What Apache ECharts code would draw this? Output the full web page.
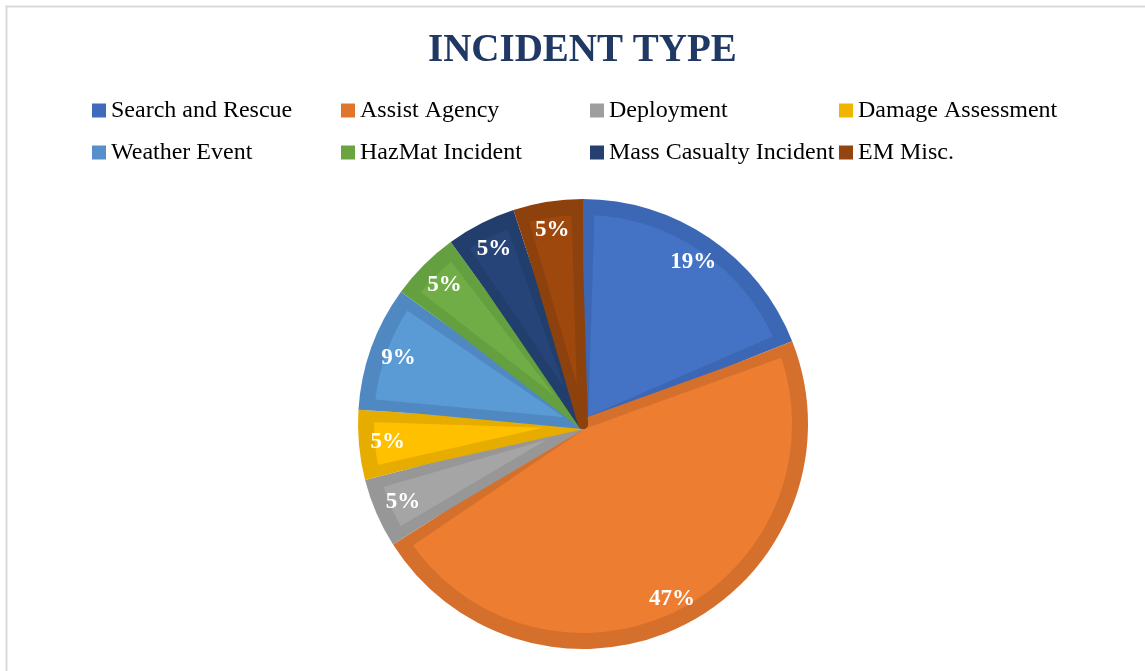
<!DOCTYPE html>
<html>
<head>
<meta charset="utf-8">
<script src="https://cdn.jsdelivr.net/npm/echarts@6/dist/echarts.min.js"></script>
<style>
  html, body { margin: 0; padding: 0; background: #fff; }
  #chart { width: 1145px; height: 671px; }
</style>
</head>
<body>
<div id="chart"></div>
<script>
const titleText = 'INCIDENT TYPE';
const categories = ['Search and Rescue', 'Assist Agency', 'Deployment', 'Damage Assessment',
                    'Weather Event', 'HazMat Incident', 'Mass Casualty Incident', 'EM Misc.'];
const percentValues = [19, 47, 5, 5, 9, 5, 5, 5];
const fillColors  = ['#4472C4', '#ED7D31', '#A5A5A5', '#FFC000', '#5B9BD5', '#70AD47', '#264478', '#9E480E'];
const frameColors = ['#3C67B4', '#D5702C', '#979797', '#E6AC00', '#5089C1', '#65A040', '#223E6D', '#8D410D'];
const legendColors = ['#3F6BBB', '#E0762E', '#9E9E9E', '#F0B500', '#568FC9', '#69A43F', '#243F70', '#944410'];

const serif = '"Liberation Serif", "Times New Roman", serif';
const center = [583, 424];

const darkData = categories.map((n, i) => ({ name: n, value: percentValues[i], itemStyle: { color: frameColors[i] } }));
const lightData = categories.map((n, i) => ({ name: n, value: percentValues[i],
  itemStyle: { color: fillColors[i], borderColor: frameColors[i], borderWidth: 10, borderJoin: 'round' } }));
const labelData = categories.map((n, i) => ({ name: n, value: percentValues[i] }));

function legendRow(names, top) {
  return {
    left: 92, top: top, orient: 'horizontal', padding: 0,
    itemWidth: 14, itemHeight: 14, itemGap: 0, icon: 'rect',
    selectedMode: false,
    data: names.map(n => ({ name: n, itemStyle: { color: legendColors[categories.indexOf(n)] } })),
    textStyle: { fontFamily: serif, fontSize: 24, color: '#000', width: 230, lineHeight: 26,
                 padding: [3, 0, 0, 0], overflow: 'none' }
  };
}

const chart = echarts.init(document.getElementById('chart'), null, { renderer: 'canvas' });
chart.setOption({
  animation: false,
  backgroundColor: '#fff',
  graphic: [{
    type: 'rect', silent: true,
    shape: { x: 6.5, y: 6.5, width: 1200, height: 700 },
    style: { fill: 'none', stroke: '#D9D9D9', lineWidth: 2 }
  }],
  title: {
    text: titleText, left: 423, top: 26,
    textStyle: { fontFamily: serif, fontSize: 39, fontWeight: 'bold', color: '#1F3864' }
  },
  legend: [legendRow(categories.slice(0, 4), 96), legendRow(categories.slice(4), 138)],
  series: [
    {
      type: 'pie', name: 'frame', center: center, radius: [0, 225], startAngle: 90, clockwise: true,
      silent: true, label: { show: false }, labelLine: { show: false },
      emphasis: { disabled: true }, data: darkData
    },
    {
      type: 'pie', name: 'fill', center: center, radius: [0, 214], startAngle: 90, clockwise: true,
      padAngle: 3.5, silent: true, label: { show: false }, labelLine: { show: false },
      emphasis: { disabled: true }, data: lightData
    },
    {
      type: 'pie', name: 'labels', center: center, radius: [160, 226], startAngle: 90, clockwise: true,
      silent: true, emphasis: { disabled: true },
      itemStyle: { color: 'rgba(0,0,0,0)' },
      labelLine: { show: false },
      label: {
        show: true, position: 'inside', formatter: '{c}%',
        fontFamily: serif, fontSize: 23, fontWeight: 'bold', color: '#fff'
      },
      data: labelData
    }
  ]
});
</script>
</body>
</html>
